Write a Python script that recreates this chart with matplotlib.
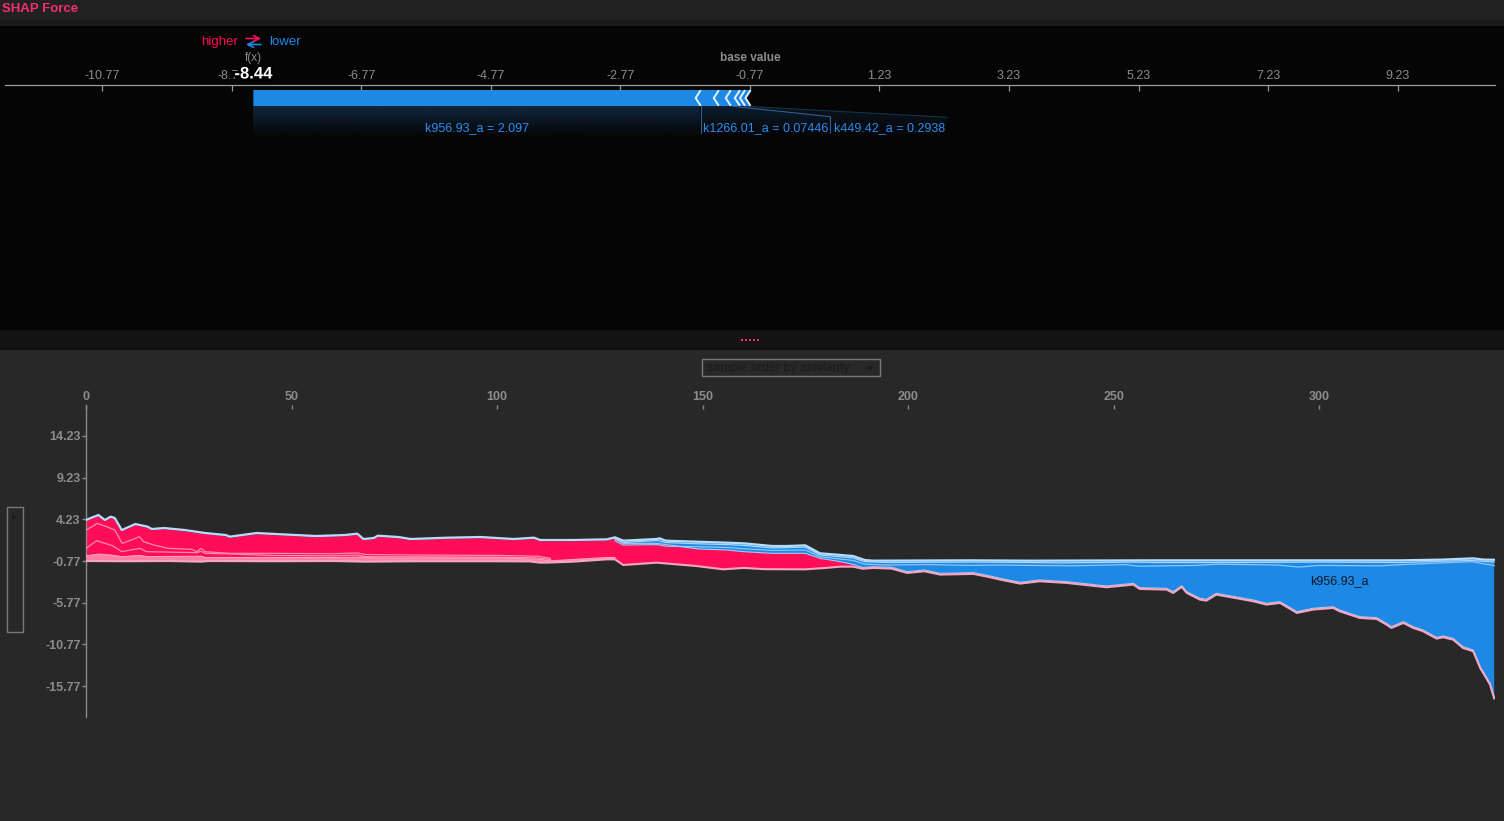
import numpy as np
import matplotlib
matplotlib.use("Agg")
import matplotlib.pyplot as plt
import matplotlib.colors as mcolors
import matplotlib.patheffects as pe
from matplotlib.patches import Rectangle, Polygon

plt.rcParams['font.family'] = ['Liberation Sans', 'DejaVu Sans']

RED = '#ff0d57'
BLUE = '#1e88e5'
GREY = '#8c8c8c'

# ---- single sample force plot (top) ----
base_value = -0.77
fx_value = -8.44
force_ticks = [-10.77, -8.77, -6.77, -4.77, -2.77, -0.77, 1.23, 3.23, 5.23, 7.23, 9.23]
# effects pushing the output lower, listed from f(x) towards the base value
force_effects = [6.90, 0.28, 0.185, 0.14, 0.08, 0.085]
force_labels = ["k956.93_a = 2.097", "k1266.01_a = 0.07446", "k449.42_a = 0.2938"]

# ---- stacked force array (bottom) ----
sample_ticks = [0, 50, 100, 150, 200, 250, 300]
value_ticks = [14.23, 9.23, 4.23, -0.77, -5.77, -10.77, -15.77]

top_s = [0, 1, 3, 4.6, 6, 7, 8.7, 12, 15, 16, 19, 24, 29, 34, 35, 41.5, 51, 56, 63, 66,
         67.5, 70, 71, 76, 79, 88, 96, 104, 109, 110.5, 118.5, 126.7, 128.7, 130.7, 138.8,
         139.6, 141, 148.5, 156, 160, 167, 170.5, 175, 178.6, 181.8, 186.6, 189.5, 191.5,
         215, 230, 260, 300, 320, 330, 337.5, 340, 342.6]
top_v = [4.15, 4.36, 4.75, 4.15, 4.55, 4.39, 2.95, 3.67, 3.35, 3.07, 3.19, 2.95, 2.59, 2.35,
         2.15, 2.59, 2.35, 2.23, 2.35, 2.51, 1.87, 1.99, 2.27, 2.11, 1.87, 2.03, 2.11, 1.87,
         2.03, 1.75, 1.75, 1.83, 2.07, 1.67, 1.87, 1.95, 1.67, 1.55, 1.43, 1.35, 1.03, 1.03,
         1.11, 0.15, 0.03, -0.17, -0.65, -0.73, -0.69, -0.73, -0.69, -0.69, -0.69, -0.6,
         -0.45, -0.6, -0.62]

fx_s = [0, 1, 3, 4.6, 6, 7, 8.7, 12, 15, 16, 19, 24, 29, 34, 35, 41.5, 51, 56, 63, 66,
        67.5, 70, 71, 76, 79, 88, 96, 104, 109, 110.5, 118.5, 126.7, 128.7,
        130.7, 138.8, 149, 156, 160, 167, 175, 178.6, 183.5, 186.6, 189, 191.5, 196, 199.8,
        204, 207.8, 215.9, 220, 222.4, 227.3, 232, 238.6, 248.3, 254.8, 256.4, 262.9, 264.5,
        266.6, 267.8, 271, 272.6, 275, 284, 287.2, 290.5, 294.6, 298.5, 303.4, 305, 309.9,
        314, 316.4, 317.6, 320.5, 322.9, 325.3, 328.6, 330.2, 332.6, 335, 337.5, 339.2,
        341.6, 342.6]
fx_v = [4.0, 4.21, 4.6, 4.0, 4.4, 4.24, 2.8, 3.52, 3.2, 2.92, 3.04, 2.8, 2.44, 2.2, 2.0,
        2.44, 2.2, 2.08, 2.2, 2.36, 1.72, 1.84, 2.12, 1.96, 1.72, 1.88, 1.96, 1.72, 1.88,
        1.6, 1.6, 1.68, 1.92,
        1.35, 1.35, 0.67, 0.55, 0.35, 0.15, 0.15, -0.45, -0.85, -1.17, -1.57, -1.45, -1.53,
        -2.05, -1.85, -2.25, -2.17, -2.57, -2.85, -3.33, -3.05, -3.25, -3.77, -3.45, -3.97,
        -4.05, -4.45, -3.73, -4.45, -5.25, -5.37, -4.65, -5.45, -5.85, -5.65, -6.85, -6.45,
        -6.25, -6.65, -7.45, -7.57, -8.25, -8.65, -8.05, -8.65, -9.05, -9.93, -9.77, -10.05,
        -11.05, -11.45, -13.45, -15.45, -17.1]

bot_s = [0, 10, 20, 28, 30, 45, 60, 68, 80, 100, 108, 110.5, 113, 118.5, 126.7, 128.7,
         130.7, 138.8, 148.5, 155, 160, 165, 175, 180, 183.5, 186.6, 189, 191.5, 196, 199.8,
         204, 207.8, 215.9, 220, 222.4, 227.3, 232, 238.6, 248.3, 254.8, 256.4, 262.9, 264.5,
         266.6, 267.8, 271, 272.6, 275, 284, 287.2, 290.5, 294.6, 298.5, 303.4, 305, 309.9,
         314, 316.4, 317.6, 320.5, 322.9, 325.3, 328.6, 330.2, 332.6, 335, 337.5, 339.2,
         341.6, 342.6]
bot_v = [-0.77, -0.8, -0.77, -0.85, -0.77, -0.8, -0.77, -0.85, -0.8, -0.8, -0.82, -0.97,
         -0.95, -0.85, -0.57, -0.57, -1.25, -0.97, -1.37, -1.77, -1.6, -1.75, -1.77, -1.6,
         -1.45, -1.45, -1.7, -1.6, -1.68, -2.2, -2.0, -2.4, -2.32, -2.72, -3.0, -3.48, -3.2,
         -3.4, -3.92, -3.6, -4.12, -4.2, -4.6, -3.88, -4.6, -5.4, -5.52, -4.8, -5.6, -6.0,
         -5.8, -7.0, -6.6, -6.4, -6.8, -7.6, -7.72, -8.4, -8.8, -8.2, -8.8, -9.2, -10.08,
         -9.92, -10.2, -11.2, -11.6, -13.6, -15.6, -17.25]

# feature boundaries inside the red area
r1_s = [0, 1.5, 2.7, 5, 7, 8.8, 11, 13, 14, 16.5, 20, 25.7, 27, 28, 29, 35, 45, 60, 66, 68,
        80, 100, 110, 113]
r1_v = [2.95, 3.35, 3.75, 3.35, 2.95, 1.35, 1.75, 2.15, 1.55, 1.15, 0.75, 0.63, 0.35, 0.75,
        0.35, 0.15, 0.15, 0.1, 0.2, 0.0, -0.05, -0.1, -0.2, -0.45]
r2_s = [0, 2.6, 6.6, 8.7, 13.1, 14.7, 20, 27, 28, 29, 35, 45, 60, 66, 68, 100, 110, 113]
r2_v = [0.75, 1.67, 1.03, 0.35, 0.75, 0.35, 0.3, 0.23, 0.4, 0.15, 0.07, -0.1, -0.15, -0.05,
        -0.25, -0.3, -0.4, -0.6]
lt_s = [0, 3, 6, 8.7, 13, 15, 28, 29, 40, 60, 67, 70, 100, 110, 113, 126.7, 128.7]
lt_v = [-0.15, 0.05, -0.05, -0.25, -0.1, -0.25, -0.2, -0.35, -0.35, -0.35, -0.3, -0.4, -0.4,
        -0.55, -0.75, -0.35, -0.35]

# feature boundaries inside the blue area
b1_s = [128.7, 130.7, 139, 141, 148.5, 156, 160, 167, 175, 178.6, 182, 186.6, 189.5, 195,
        215, 230, 237, 255, 260, 280, 300, 320, 330, 337, 342.6]
b1_v = [1.85, 1.45, 1.7, 1.45, 1.3, 1.2, 1.1, 0.8, 0.9, -0.05, -0.2, -0.4, -0.85, -0.95,
        -0.9, -0.95, -1.0, -0.9, -0.95, -0.95, -0.9, -0.95, -0.8, -0.7, -0.9]
b2_s = [128.7, 130.7, 139, 141, 148.5, 156, 160, 167, 175, 178.6, 182, 186.6, 189.5, 195,
        205, 215, 222, 230, 240, 253, 256, 270, 275, 290, 295, 300, 315, 320, 330, 337,
        340, 342.6]
b2_v = [1.65, 1.15, 1.2, 1.0, 0.95, 0.85, 0.7, 0.5, 0.55, -0.25, -0.45, -0.7, -1.15, -1.25,
        -1.2, -1.3, -1.25, -1.3, -1.35, -1.2, -1.4, -1.3, -1.15, -1.25, -1.5, -1.3, -1.35,
        -1.2, -1.0, -0.85, -1.1, -1.3]

W, H = 1504, 821
fig = plt.figure(figsize=(W / 100, H / 100), dpi=100)
fig.patch.set_facecolor('#282828')

# background panels, pixel coordinates
bg = fig.add_axes([0, 0, 1, 1])
bg.set_xlim(0, W)
bg.set_ylim(H, 0)
bg.axis('off')
bg.add_patch(Rectangle((0, 0), W, 20, color='#212121', lw=0))
bg.add_patch(Rectangle((0, 20), W, 6, color='#1a1a1a', lw=0))
bg.add_patch(Rectangle((0, 26), W, 304, color='#050505', lw=0))
bg.add_patch(Rectangle((0, 330), W, 20, color='#131313', lw=0))
bg.add_patch(Rectangle((0, 350), W, H - 350, color='#282828', lw=0))
for dx in [742, 746, 750, 754, 758]:
    bg.add_patch(Rectangle((dx - 1, 339.5), 2, 2, color='#ff2b6a', lw=0))

bg.text(2, 9, "SHAP Force", color='#f5306c', fontsize=9.5, fontweight='bold', va='center')
bg.text(201, 42, "higher", color=RED, fontsize=9.5, va='center')
bg.text(269, 42, "lower", color=BLUE, fontsize=9.5, va='center')
bg.annotate('', xy=(261, 38.5), xytext=(246, 38.5),
            arrowprops=dict(arrowstyle='->', color=RED, lw=1.2, shrinkA=0, shrinkB=0))
bg.annotate('', xy=(246, 44.5), xytext=(261, 44.5),
            arrowprops=dict(arrowstyle='->', color=BLUE, lw=1.2, shrinkA=0, shrinkB=0))
bg.text(253, 58, "f(x)", color=GREY, fontsize=8.5, ha='center', va='center')
bg.text(750, 58, "base value", color=GREY, fontsize=8.5, fontweight='bold', ha='center', va='center')

# dropdown and y-axis selector boxes
bg.add_patch(Rectangle((701.5, 359.5), 178, 17, fill=False, ec='#7a7a7a', lw=1))
bg.text(707, 368.5, "sample order by similarity", color='#1c1c1c', fontsize=9, va='center')
bg.text(870, 368.5, "\u25BC", color='#1c1c1c', fontsize=6, ha='center', va='center',
        family=['DejaVu Sans'])
bg.add_patch(Rectangle((6.5, 507.5), 16.5, 125, fill=False, ec='#7a7a7a', lw=1))
bg.text(14.5, 517, "\u25B6", color='#1a1a1a', fontsize=5.5, ha='center', va='center',
        family=['DejaVu Sans'])
bg.text(14.5, 619, "f(x)", color='#2a2a2a', fontsize=8.5, rotation=90, ha='center', va='center')

# ---- top force plot ----
px_per_unit = 64.75
ax1 = fig.add_axes([5 / W, 1 - 140 / H, 1490 / W, 55 / H])
ax1.set_facecolor('none')
xmin = base_value - 745 / px_per_unit
xmax = base_value + 745 / px_per_unit


def fv(px):
    return base_value + (px - 750) / px_per_unit


bounds = [fx_value]
for e in force_effects:
    bounds.append(bounds[-1] + e)
w = 4.5 / px_per_unit
ytop, ymid, ybot = 90, 98, 106


def shade(poly, color, a0):
    grad = np.zeros((60, 1, 4))
    grad[..., :3] = mcolors.to_rgb(color)
    grad[:, 0, 3] = np.linspace(a0, 0, 60)
    xs = [p[0] for p in poly]
    ys = [p[1] for p in poly]
    im = ax1.imshow(grad, extent=[min(xs), max(xs), max(ys), min(ys)], aspect='auto',
                    zorder=1, interpolation='bilinear')
    clip = Polygon(poly, closed=True, transform=ax1.transData, fc='none', ec='none')
    ax1.add_patch(clip)
    im.set_clip_path(clip)


shade([(bounds[0], 106), (bounds[1], 106), (bounds[1], 137), (bounds[0], 137)], '#12304f', 0.75)
shade([(bounds[1], 106), (fv(733), 106), (fv(830.5), 116.7), (fv(830.5), 137), (fv(701), 137),
       (fv(701), 106)], '#12304f', 0.55)
shade([(fv(733), 106), (fv(746), 106), (fv(947), 117.3), (fv(947), 137), (fv(831), 137),
       (fv(831), 116.7)], '#12304f', 0.35)
ax1.plot([fv(733), fv(830.5), fv(830.5)], [106.3, 116.7, 133], color='#2d5f8f', lw=0.8, zorder=2)
ax1.plot([fv(746), fv(947)], [106.3, 117.3], color='#1c3550', lw=0.7, zorder=2)
ax1.plot([fv(701), fv(701)], [106.3, 133], color='#2d5f8f', lw=0.8, zorder=2)

for i in range(len(force_effects)):
    a, b = bounds[i], bounds[i + 1]
    if i == 0:
        pts = [(a, ytop), (b, ytop), (b - w, ymid), (b, ybot), (a, ybot)]
    else:
        pts = [(a, ytop), (b, ytop), (b - w, ymid), (b, ybot), (a, ybot), (a - w, ymid)]
    ax1.add_patch(Polygon(pts, closed=True, fc=BLUE, ec='none', zorder=3))
for b in bounds[1:]:
    ax1.plot([b, b - w, b], [ytop + 1, ymid, ybot - 1], color='#e6f2fd', lw=1.4, zorder=4,
             solid_joinstyle='miter')

ax1.text((bounds[0] + bounds[1]) / 2, 128, force_labels[0], color='#2b8cee', fontsize=9,
         ha='center', va='center', zorder=5)
ax1.text(fv(766), 128, force_labels[1], color='#2b8cee', fontsize=9, ha='center',
         va='center', zorder=5)
ax1.text(fv(890), 128, force_labels[2], color='#2b8cee', fontsize=9, ha='center',
         va='center', zorder=5)

ax1.set_xlim(xmin, xmax)
ax1.set_ylim(140, 85)
for s in ['left', 'right', 'bottom']:
    ax1.spines[s].set_visible(False)
ax1.spines['top'].set_color('#9a9a9a')
ax1.spines['top'].set_linewidth(0.9)
ax1.xaxis.tick_top()
ax1.set_xticks(force_ticks)
ax1.set_xticklabels([f"{t:.2f}" for t in force_ticks])
ax1.tick_params(axis='x', direction='in', length=4, width=0.9, color='#9a9a9a',
                labelcolor=GREY, labelsize=9, pad=2.5)
ax1.set_yticks([])

fx_txt = ax1.text(fx_value, 74, f"{fx_value:.2f}", color='white', fontsize=12,
                  fontweight='bold', ha='center', va='center', clip_on=False, zorder=6)
fx_txt.set_path_effects([pe.withStroke(linewidth=3, foreground='black')])

# ---- bottom stacked force array ----
unit_px = 250 / 30
y_hi = -0.77 + (561 - 405) / unit_px
y_lo = -0.77 - (717 - 561) / unit_px
ax2 = fig.add_axes([86 / W, 1 - 717 / H, (1495 - 86) / W, 312 / H])
ax2.set_facecolor('none')

blue_x = np.r_[top_s, fx_s[::-1]]
blue_y = np.r_[top_v, fx_v[::-1]]
ax2.fill(blue_x, blue_y, color=BLUE, lw=0, zorder=1)
red_x = np.r_[fx_s, bot_s[::-1]]
red_y = np.r_[fx_v, bot_v[::-1]]
ax2.fill(red_x, red_y, color=RED, lw=0, zorder=2)

band_bs = [s for s in bot_s if s <= lt_s[-1]]
band_bv = [v for s, v in zip(bot_s, bot_v) if s <= lt_s[-1]]
ax2.fill(np.r_[lt_s, band_bs[::-1]], np.r_[lt_v, band_bv[::-1]], color='#ff7fa3', lw=0,
         zorder=3)

ax2.plot(r1_s, r1_v, color='#ff8db0', lw=0.9, zorder=4)
ax2.plot(r2_s, r2_v, color='#ff8db0', lw=0.9, zorder=4)
ax2.plot(lt_s, lt_v, color='#ffa3bd', lw=0.8, zorder=4)
ax2.plot(b1_s, b1_v, color='#a9d6fa', lw=0.9, zorder=4)
ax2.plot(b2_s, b2_v, color='#8cc6f5', lw=0.9, zorder=4)
ax2.plot(fx_s[32:], fx_v[32:], color='#9fd0f7', lw=0.8, zorder=4)
ax2.plot(bot_s, bot_v, color='#f6a6c2', lw=1.5, zorder=5)
ax2.plot(top_s, top_v, color='#b5dcf8', lw=1.6, zorder=5)

ax2.text(305, -3.2, "k956.93_a", color='#101828', fontsize=9, ha='center', va='center',
         zorder=6)

ax2.set_xlim(0, 342.8)
ax2.set_ylim(y_lo, y_hi)
for s in ['top', 'right', 'bottom']:
    ax2.spines[s].set_visible(False)
ax2.spines['left'].set_color('#8a8a8a')
ax2.spines['left'].set_linewidth(1)
ax2.xaxis.tick_top()
ax2.set_xticks(sample_ticks)
ax2.set_yticks(value_ticks)
ax2.set_yticklabels([f"{t:.2f}" for t in value_ticks])
ax2.tick_params(axis='x', direction='in', length=3, width=1, color='#8a8a8a',
                labelcolor=GREY, labelsize=9, pad=1.5)
ax2.tick_params(axis='y', direction='out', length=3, width=1, color='#8a8a8a',
                labelcolor=GREY, labelsize=9, pad=1)
for lab in ax2.get_xticklabels() + ax2.get_yticklabels():
    lab.set_fontweight('bold')

fig.savefig('out.png', dpi=100, facecolor=fig.get_facecolor())
